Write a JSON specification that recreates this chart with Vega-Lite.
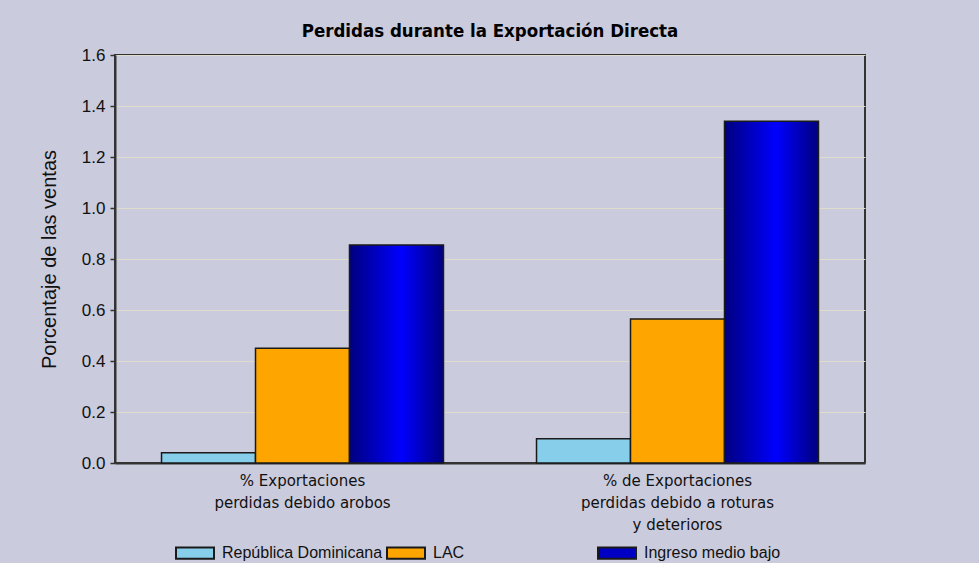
{
  "$schema": "https://vega.github.io/schema/vega-lite/v6.json",
  "width": 750,
  "height": 408,
  "autosize": {"type": "none"},
  "padding": {"left": 115, "top": 55, "right": 114, "bottom": 100},
  "background": "#CACBDD",
  "title": {
    "text": "Perdidas durante la Exportación Directa",
    "font": "'DejaVu Sans Condensed', 'Liberation Sans', sans-serif",
    "fontSize": 18.5,
    "fontWeight": "bold",
    "color": "#000000",
    "anchor": "middle",
    "offset": 6
  },
  "data": {
    "values": [
      {"cat": "% Exportaciones\nperdidas debido arobos", "series": "República Dominicana", "value": 0.04},
      {"cat": "% Exportaciones\nperdidas debido arobos", "series": "LAC", "value": 0.45},
      {"cat": "% Exportaciones\nperdidas debido arobos", "series": "Ingreso medio bajo", "value": 0.855},
      {"cat": "% de Exportaciones\nperdidas debido a roturas\ny deterioros", "series": "República Dominicana", "value": 0.095},
      {"cat": "% de Exportaciones\nperdidas debido a roturas\ny deterioros", "series": "LAC", "value": 0.565},
      {"cat": "% de Exportaciones\nperdidas debido a roturas\ny deterioros", "series": "Ingreso medio bajo", "value": 1.34}
    ]
  },
  "mark": {"type": "bar", "stroke": "#1a1a1a", "strokeWidth": 1.5},
  "encoding": {
    "x": {
      "field": "cat",
      "type": "nominal",
      "sort": null,
      "scale": {"paddingInner": 0, "paddingOuter": 0},
      "axis": {
        "title": null,
        "labelAngle": 0,
        "labelExpr": "split(datum.label, '\\n')",
        "labelFont": "DejaVu Sans",
        "labelFontSize": 15,
        "labelColor": "#111111",
        "labelLineHeight": 22,
        "labelPadding": 10,
        "ticks": false,
        "domainColor": "#333333",
        "domainWidth": 2,
        "labelLimit": 400
      }
    },
    "xOffset": {
      "field": "series",
      "type": "nominal",
      "sort": ["República Dominicana", "LAC", "Ingreso medio bajo"],
      "scale": {"paddingInner": 0, "paddingOuter": 0.495}
    },
    "y": {
      "field": "value",
      "type": "quantitative",
      "scale": {"domain": [0, 1.6], "nice": false},
      "axis": {
        "title": "Porcentaje de las ventas",
        "titleFont": "Liberation Sans",
        "titleFontSize": 20,
        "titleFontWeight": "normal",
        "titleColor": "#111111",
        "titlePadding": 22,
        "values": [0, 0.2, 0.4, 0.6, 0.8, 1.0, 1.2, 1.4, 1.6],
        "format": ".1f",
        "labelFont": "Liberation Sans",
        "labelFontSize": 17,
        "labelColor": "#111111",
        "labelPadding": 5,
        "tickSize": 5,
        "tickColor": "#333333",
        "tickWidth": 1.5,
        "domainColor": "#333333",
        "domainWidth": 2,
        "grid": true,
        "gridColor": "#DEDDCC",
        "gridWidth": 1
      }
    },
    "fill": {
      "condition": {
        "test": "datum.series === 'Ingreso medio bajo'",
        "value": {
          "gradient": "linear",
          "x1": 0, "y1": 0, "x2": 1, "y2": 0,
          "stops": [
            {"offset": 0, "color": "#00007F"},
            {"offset": 0.55, "color": "#0000FF"},
            {"offset": 1, "color": "#00007F"}
          ]
        }
      },
      "field": "series",
      "type": "nominal",
      "sort": ["República Dominicana", "LAC", "Ingreso medio bajo"],
      "scale": {
        "domain": ["República Dominicana", "LAC", "Ingreso medio bajo"],
        "range": ["#87CEEB", "#FFA500", "#0000C4"]
      },
      "legend": {
        "title": null,
        "orient": "none",
        "legendX": 60,
        "legendY": 478,
        "direction": "horizontal",
        "columns": 3,
        "gridAlign": "all",
        "columnPadding": 0,
        "padding": 0,
        "symbolType": "M-1,-0.3H1V0.3H-1Z",
        "symbolSize": 1444,
        "symbolStrokeColor": "#1a1a1a",
        "symbolStrokeWidth": 2,
        "symbolOpacity": 1,
        "labelFont": "Liberation Sans",
        "labelFontSize": 16,
        "labelColor": "#111111",
        "labelOffset": 7,
        "labelLimit": 300,
        "symbolLimit": 0
      }
    }
  },
  "config": {
    "view": {"stroke": "#333333", "strokeWidth": 2, "fill": null},
    "axis": {"labelFontWeight": "normal"}
  }
}
